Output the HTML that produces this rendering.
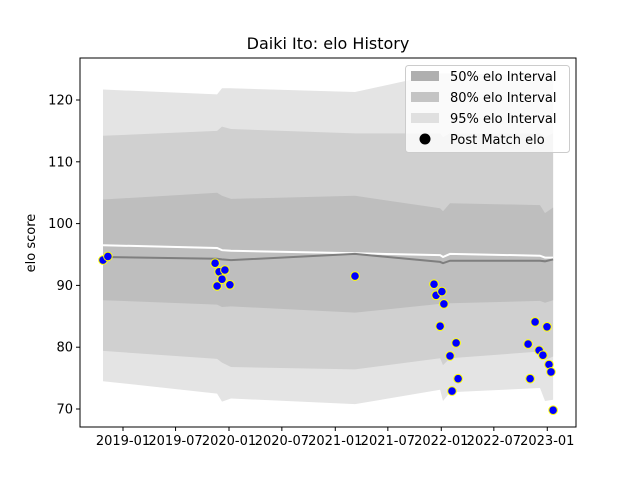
<!DOCTYPE html>
<html><head><meta charset="utf-8"><style>
body{margin:0;background:#fff}
svg{display:block;font-family:"DejaVu Sans","Liberation Sans",sans-serif}
</style></head><body>
<svg id="chart" width="640" height="480"></svg>
<script>
const bandDates=["2018-10-24","2019-11-21","2019-12-08","2020-01-08","2021-03-10","2021-12-28","2022-01-07","2022-01-31","2022-12-07","2022-12-24","2023-01-21"];
const upper95=[121.7,120.9,121.9,121.9,121.3,124.3,124.3,124.3,124.0,124.0,124.0];
const upper80=[114.2,115.0,115.7,115.3,114.6,114.6,114.0,114.6,114.6,114.0,114.6];
const upper50=[103.9,105.0,104.5,104.0,104.5,102.5,102.0,103.3,103.0,101.7,102.6];
const meanLine=[94.6,94.3,94.2,94.1,95.1,93.8,93.6,94.0,94.0,93.9,94.2];
const whiteLine=[96.5,96.05,95.7,95.6,95.2,94.9,94.6,95.1,94.8,94.5,94.5];
const lower50=[87.6,86.9,86.5,86.6,85.6,87.0,86.6,87.1,87.5,87.2,87.6];
const lower80=[79.4,78.1,77.5,76.8,76.4,78.2,77.1,78.2,79.3,77.9,78.5];
const lower95=[74.5,72.5,71.2,71.7,70.8,73.1,71.3,72.7,73.4,71.3,71.5];
const matchDates=["2018-10-24","2018-11-10","2019-11-14","2019-11-21","2019-11-28","2019-12-08","2019-12-18","2020-01-04","2021-03-10","2021-12-07","2021-12-14","2021-12-28","2022-01-03","2022-01-10","2022-01-31","2022-02-07","2022-02-21","2022-02-28","2022-10-27","2022-11-03","2022-11-20","2022-12-04","2022-12-17","2022-12-31","2023-01-07","2023-01-14","2023-01-21"];
const matchElo=[94.1,94.7,93.6,89.9,92.2,91.0,92.5,90.1,91.5,90.2,88.4,83.4,89.0,87.0,78.6,72.9,80.7,74.9,80.5,74.9,84.1,79.5,78.7,83.3,77.2,76.0,69.8];
const xTicks=["2019-01","2019-07","2020-01","2020-07","2021-01","2021-07","2022-01","2022-07","2023-01"];
const yTicks=[70,80,90,100,110,120];

const NS="http://www.w3.org/2000/svg";
const svg=document.getElementById("chart");
const L=80,R=576,T=58,B=427;
const day0=Date.UTC(2019,0,1);
function days(s){const p=s.split("-");return (Date.UTC(+p[0],+p[1]-1,p[2]?+p[2]:1)-day0)/86400000;}
function xs(s){return 123+days(s)*0.2904;}
function ys(v){return 409-(v-70)*6.18;}
function mk(tag,attrs){const e=document.createElementNS(NS,tag);for(const k in attrs)e.setAttribute(k,attrs[k]);svg.appendChild(e);return e;}
function band(up,lo,fill,name){
  let d="M"+bandDates.map((t,i)=>xs(t).toFixed(1)+","+ys(up[i]).toFixed(1)).join("L");
  for(let i=bandDates.length-1;i>=0;i--)d+="L"+xs(bandDates[i]).toFixed(1)+","+ys(lo[i]).toFixed(1);
  const p=mk("path",{d:d+"Z",fill:fill});
  
  
}
band(upper95,lower95,"#e4e4e4","band-95");
band(upper80,lower80,"#d0d0d0","band-80");
band(upper50,lower50,"#bebebe","band-50");
function line(arr,col,name){
  const p=mk("polyline",{points:bandDates.map((t,i)=>xs(t).toFixed(1)+","+ys(arr[i]).toFixed(1)).join(" "),fill:"none",stroke:col,"stroke-width":2});
  
  
}
line(whiteLine,"#ffffff","expected-elo-line");
line(meanLine,"#7f7f7f","mean-elo-line");
matchDates.forEach((t,i)=>{
  const c=mk("circle",{cx:xs(t).toFixed(1),cy:ys(matchElo[i]).toFixed(1),r:4.3,fill:"#0000ff",stroke:"#ffff00","stroke-width":1});
  
  
});
const fr=mk("rect",{x:L,y:T,width:R-L,height:B-T,fill:"none",stroke:"#000","stroke-width":1});


xTicks.forEach(t=>{
  const x=xs(t);
  mk("line",{x1:x,x2:x,y1:B,y2:B+4,stroke:"#000"});
  const tx=mk("text",{x:x,y:B+18,"text-anchor":"middle","font-size":"13"});
  tx.textContent=t;
  
  
});
yTicks.forEach(v=>{
  const y=ys(v);
  mk("line",{x1:L-4,x2:L,y1:y,y2:y,stroke:"#000"});
  const tx=mk("text",{x:L-7,y:y+4.5,"text-anchor":"end","font-size":"13"});
  tx.textContent=v;
  
  
});
const yt=mk("text",{x:35,y:243,"text-anchor":"middle","font-size":"13",transform:"rotate(-90 35 243)"});
yt.textContent="elo score";


const ti=mk("text",{x:328,y:49,"text-anchor":"middle","font-size":"16"});
ti.textContent="Daiki Ito: elo History";


// legend
const lg=mk("rect",{x:405.5,y:65.5,width:164,height:87,rx:3,fill:"#fff","fill-opacity":0.8,stroke:"#ccc"});


const legItems=[["50% elo Interval","#afafaf"],["80% elo Interval","#c4c4c4"],["95% elo Interval","#e0e0e0"]];
legItems.forEach((it,i)=>{
  const y=76+i*21;
  const r=mk("rect",{x:411,y:y-5,width:28,height:10,fill:it[1]});
  
  
  const tx=mk("text",{x:450,y:y+5,"font-size":"13"});
  tx.textContent=it[0];
  
  
});
const lc=mk("circle",{cx:425,cy:139,r:5.5,fill:"#000"});


const lt=mk("text",{x:450,y:144,"font-size":"13"});
lt.textContent="Post Match elo";


</script>
</body></html>
